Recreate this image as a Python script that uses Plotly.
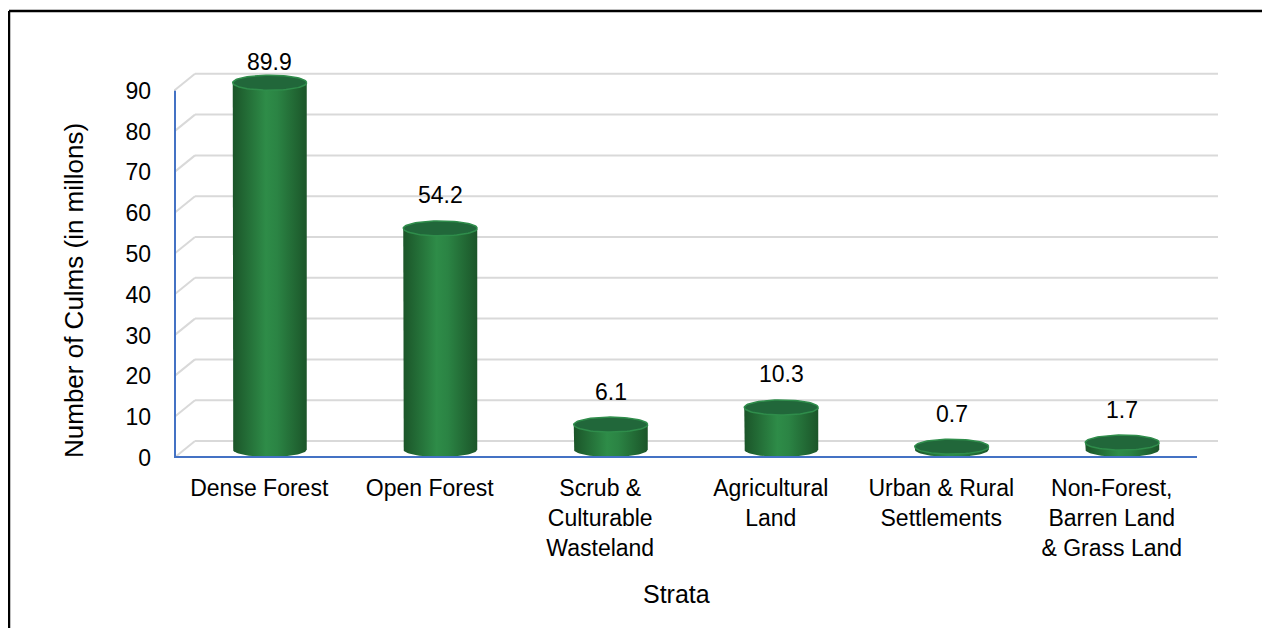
import numpy as np
import plotly.graph_objects as go

categories = ["Dense Forest", "Open Forest", "Scrub &<br>Culturable<br>Wasteland",
              "Agricultural<br>Land", "Urban & Rural<br>Settlements",
              "Non-Forest,<br>Barren Land<br>& Grass Land"]
culms = [89.9, 54.2, 6.1, 10.3, 0.7, 1.7]
y_ticks = [0, 10, 20, 30, 40, 50, 60, 70, 80, 90]

FONT = "Arial, Liberation Sans, sans-serif"

# screen geometry (page body has an 8px margin)
W, H = 1270, 628
OFF = 8
left, right, bottom, top = 174, 1218, 458, 40
px_x = 170.5          # px per category
px_y = 4.08           # px per unit
dxo = 21 / px_x       # depth offset of back wall, data units
dyo = 17 / px_y
y_max = (bottom - top) / px_y
rx = 37 / px_x
ry = 7.5 / px_y

fig = go.Figure()

t = np.linspace(0, 2 * np.pi, 80)
half = np.linspace(np.pi, 2 * np.pi, 40)
for i, v in enumerate(culms):
    cx = i + dxo / 2
    base = dyo / 2
    topc = base + v
    # body = rectangle + lower half of bottom ellipse
    bx = np.concatenate([[cx - rx], cx - rx * np.cos(half - np.pi), [cx + rx]])
    by = np.concatenate([[topc], base + ry * np.sin(half), [topc]])
    fig.add_trace(go.Scatter(
        x=bx, y=by, mode="lines", fill="toself", line=dict(width=0),
        fillgradient=dict(type="horizontal",
                          colorscale=[[0, "#1b5529"], [0.45, "#2e8c48"], [0.6, "#2b8444"], [1, "#1b5529"]]),
        hoverinfo="skip", showlegend=False))
    # top ellipse
    fig.add_trace(go.Scatter(
        x=cx + rx * np.cos(t), y=topc + ry * np.sin(t), mode="lines", fill="toself",
        fillcolor="#21673a", line=dict(color="#2f8d4b", width=1.5),
        hoverinfo="skip", showlegend=False))
    fig.add_annotation(x=cx, y=min(topc + 33 / px_y, y_max - 22 / px_y), text=f"{v}",
                       showarrow=False, font=dict(family=FONT, size=23, color="black"))

shapes = []
for v in y_ticks:
    shapes.append(dict(type="line", xref="x", yref="y", layer="below",
                       x0=-0.5 + dxo, x1=5.5 + dxo, y0=v + dyo, y1=v + dyo,
                       line=dict(color="#d9d9d9", width=2)))
    shapes.append(dict(type="line", xref="x", yref="y", layer="below",
                       x0=-0.5, x1=-0.5 + dxo, y0=v, y1=v + dyo,
                       line=dict(color="#d9d9d9", width=2)))
# blue axis lines (half of the width is clipped at the plot edge)
shapes.append(dict(type="line", xref="x", yref="y", x0=-0.5, x1=-0.5, y0=0, y1=max(y_ticks),
                   line=dict(color="#4472c4", width=4)))
shapes.append(dict(type="line", xref="x", yref="y", x0=-0.5, x1=5.5, y0=0, y1=0,
                   line=dict(color="#4472c4", width=4)))


def px2paper_x(p):
    return (p - left) / (right - left)


def px2paper_y(p):
    return (bottom - p) / (bottom - top)


# outer frame (top and left edges)
shapes.append(dict(type="line", xref="paper", yref="paper",
                   x0=px2paper_x(9), x1=px2paper_x(W + 5), y0=px2paper_y(11), y1=px2paper_y(11),
                   line=dict(color="black", width=2.5)))
shapes.append(dict(type="line", xref="paper", yref="paper",
                   x0=px2paper_x(9), x1=px2paper_x(9), y0=px2paper_y(11), y1=px2paper_y(H + 5),
                   line=dict(color="black", width=2.5)))

fig.add_annotation(xref="paper", yref="paper", x=px2paper_x(74), y=px2paper_y(291),
                   xanchor="center", yanchor="middle",
                   text="Number of Culms (in millons)", textangle=-90, showarrow=False,
                   font=dict(family=FONT, size=26, color="black"))
fig.add_annotation(xref="paper", yref="paper", x=px2paper_x(676), y=px2paper_y(594),
                   xanchor="center", yanchor="middle",
                   text="Strata", showarrow=False,
                   font=dict(family=FONT, size=25, color="black"))

fig.update_layout(
    width=W - OFF, height=H - OFF,
    margin=dict(l=left - OFF, r=W - right, t=top - OFF, b=H - bottom),
    paper_bgcolor="white", plot_bgcolor="white",
    shapes=shapes, showlegend=False,
    xaxis=dict(range=[-0.5, 5.5 + dxo], tickmode="array", tickvals=list(range(6)),
               ticktext=categories, showgrid=False, zeroline=False, showline=False,
               ticks="", ticklabelstandoff=14,
               tickfont=dict(family=FONT, size=23, color="black")),
    yaxis=dict(range=[0, y_max], tickmode="array", tickvals=y_ticks,
               showgrid=False, zeroline=False, showline=False, ticks="",
               ticklabelstandoff=22,
               tickfont=dict(family=FONT, size=23, color="black")),
)

fig.write_html("out.html")
